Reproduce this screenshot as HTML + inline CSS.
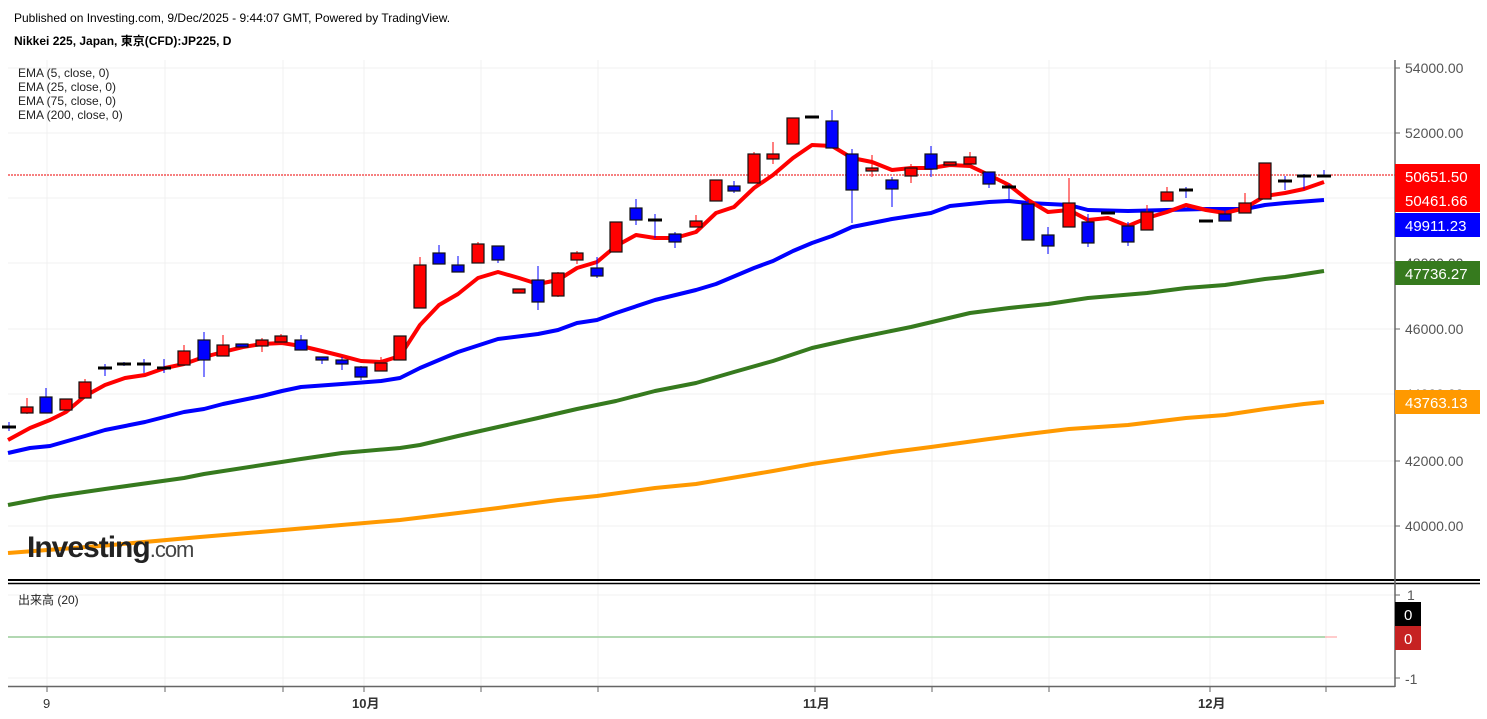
<!DOCTYPE html>
<html><head><meta charset="utf-8"><style>
html,body{margin:0;padding:0;background:#fff;width:1487px;height:719px;overflow:hidden}
svg{display:block;font-family:"Liberation Sans","Noto Sans CJK JP",sans-serif}
</style></head><body>
<svg id="s" width="1487" height="719" viewBox="0 0 1487 719" xmlns="http://www.w3.org/2000/svg">
<rect width="1487" height="719" fill="#fff"/>
<g stroke="#f0f0f0" stroke-width="1">
<line x1="8" x2="1395" y1="68" y2="68"/><line x1="8" x2="1395" y1="133" y2="133"/><line x1="8" x2="1395" y1="198" y2="198"/><line x1="8" x2="1395" y1="263" y2="263"/><line x1="8" x2="1395" y1="329" y2="329"/><line x1="8" x2="1395" y1="394" y2="394"/><line x1="8" x2="1395" y1="461" y2="461"/><line x1="8" x2="1395" y1="526" y2="526"/>
<line x1="8" x2="1395" y1="595" y2="595"/><line x1="8" x2="1395" y1="678" y2="678"/>
<line x1="47" x2="47" y1="60" y2="686"/><line x1="165" x2="165" y1="60" y2="686"/><line x1="283" x2="283" y1="60" y2="686"/><line x1="364" x2="364" y1="60" y2="686"/><line x1="481" x2="481" y1="60" y2="686"/><line x1="598" x2="598" y1="60" y2="686"/><line x1="815" x2="815" y1="60" y2="686"/><line x1="932" x2="932" y1="60" y2="686"/><line x1="1049" x2="1049" y1="60" y2="686"/><line x1="1210" x2="1210" y1="60" y2="686"/><line x1="1326" x2="1326" y1="60" y2="686"/>
</g>
<text x="14" y="22" font-size="12" fill="#000">Published on Investing.com, 9/Dec/2025 - 9:44:07 GMT, Powered by TradingView.</text>
<text x="14" y="45" font-size="12" font-weight="bold" fill="#000">Nikkei 225, Japan, 東京(CFD):JP225, D</text>
<g font-size="12" fill="#222"><text x="18" y="77">EMA (5, close, 0)</text><text x="18" y="91">EMA (25, close, 0)</text><text x="18" y="105">EMA (75, close, 0)</text><text x="18" y="119">EMA (200, close, 0)</text></g>
<line x1="8" x2="1395" y1="175" y2="175" stroke="#e00" stroke-width="1" stroke-dasharray="2,1"/>
<g id="lines" fill="none" stroke-width="4" stroke-linejoin="round"></g>
<g id="candles"></g>
<text x="27" y="557" font-size="30" font-weight="bold" fill="#222" letter-spacing="-1">Investing<tspan font-weight="normal" font-size="22" fill="#444">.com</tspan></text>
<line x1="8" x2="1480" y1="580" y2="580" stroke="#000" stroke-width="2"/>
<line x1="8" x2="1480" y1="583.5" y2="583.5" stroke="#000" stroke-width="1.5"/>
<text x="18" y="604" font-size="12" fill="#222">出来高 (20)</text>
<line x1="8" x2="1325" y1="637" y2="637" stroke="#9c9" stroke-width="1.5"/>
<line x1="1325" x2="1337" y1="637" y2="637" stroke="#f99" stroke-width="1"/>
<line x1="1395" x2="1395" y1="60" y2="687" stroke="#666" stroke-width="1.5"/>
<line x1="8" x2="1395" y1="686.5" y2="686.5" stroke="#666" stroke-width="1.5"/>
<g stroke="#666"><line x1="1395" x2="1400" y1="68" y2="68"/><line x1="1395" x2="1400" y1="133" y2="133"/><line x1="1395" x2="1400" y1="198" y2="198"/><line x1="1395" x2="1400" y1="263" y2="263"/><line x1="1395" x2="1400" y1="329" y2="329"/><line x1="1395" x2="1400" y1="394" y2="394"/><line x1="1395" x2="1400" y1="461" y2="461"/><line x1="1395" x2="1400" y1="526" y2="526"/><line x1="1395" x2="1400" y1="595" y2="595"/><line x1="1395" x2="1400" y1="678" y2="678"/>
<line x1="47" x2="47" y1="687" y2="692"/><line x1="165" x2="165" y1="687" y2="692"/><line x1="283" x2="283" y1="687" y2="692"/><line x1="364" x2="364" y1="687" y2="692"/><line x1="481" x2="481" y1="687" y2="692"/><line x1="598" x2="598" y1="687" y2="692"/><line x1="815" x2="815" y1="687" y2="692"/><line x1="932" x2="932" y1="687" y2="692"/><line x1="1049" x2="1049" y1="687" y2="692"/><line x1="1210" x2="1210" y1="687" y2="692"/><line x1="1326" x2="1326" y1="687" y2="692"/></g>
<g font-size="14" fill="#555"><text x="1405" y="73">54000.00</text><text x="1405" y="138">52000.00</text><text x="1405" y="268">48000.00</text><text x="1405" y="334">46000.00</text><text x="1405" y="399">44000.00</text><text x="1405" y="466">42000.00</text><text x="1405" y="531">40000.00</text>
<text x="1407" y="600">1</text><text x="1405" y="684">-1</text></g>
<rect x="1395" y="164" width="85" height="24" fill="#f00"/><text x="1405" y="182" font-size="15" fill="#fff">50651.50</text>
<rect x="1395" y="188" width="85" height="24" fill="#f00"/><text x="1405" y="206" font-size="15" fill="#fff">50461.66</text>
<rect x="1395" y="213" width="85" height="24" fill="#00f"/><text x="1405" y="231" font-size="15" fill="#fff">49911.23</text>
<rect x="1395" y="261" width="85" height="24" fill="#367a1e"/><text x="1405" y="279" font-size="15" fill="#fff">47736.27</text>
<rect x="1395" y="390" width="85" height="24" fill="#f90"/><text x="1405" y="408" font-size="15" fill="#fff">43763.13</text>
<rect x="1395" y="602" width="26" height="24" fill="#000"/><text x="1404" y="620" font-size="15" fill="#fff">0</text>
<rect x="1395" y="626" width="26" height="24" fill="#c62222"/><text x="1404" y="644" font-size="15" fill="#fff">0</text>
<g font-size="13" fill="#333"><text x="43" y="708">9</text><text x="352" y="708" font-weight="bold">10月</text><text x="803" y="708" font-weight="bold">11月</text><text x="1198" y="708" font-weight="bold">12月</text></g>
</svg>
<script>
var NS="http://www.w3.org/2000/svg";
function el(p,t,a){var e=document.createElementNS(NS,t);for(var k in a)e.setAttribute(k,a[k]);p.appendChild(e);return e;}
var L=document.getElementById("lines");
function line(pts,c){el(L,"polyline",{points:pts.map(function(p){return p.join(",")}).join(" "),stroke:c});}
line([[8,553],[100,546],[200,537],[260,532],[400,520],[458,513],[498,508],[558,500],[597,496],[655,488],[696,484],[773,471],[812,464],[852,458],[892,452],[931,447],[989,439],[1028,434],[1069,429],[1128,425],[1186,418],[1225,415],[1265,409],[1304,404],[1324,402]],"#f90");
line([[8,505],[50,497],[105,489],[184,478],[204,474],[301,459],[342,453],[400,448],[420,445],[458,436],[498,427],[538,418],[577,409],[616,401],[655,391],[696,383],[734,372],[773,361],[812,348],[852,339],[911,327],[970,313],[1009,308],[1048,304],[1088,298],[1147,293],[1186,288],[1225,285],[1265,279],[1285,277],[1324,271]],"#367a1e");
line([[8,453],[30,448],[50,446],[85,436],[105,430],[145,422],[184,412],[204,409],[223,404],[262,396],[282,391],[301,387],[342,384],[381,381],[400,378],[420,368],[458,352],[498,339],[538,334],[558,330],[577,323],[597,320],[616,313],[655,300],[696,290],[716,284],[754,268],[773,261],[793,251],[812,243],[832,236],[852,227],[872,223],[892,219],[931,213],[950,206],[989,202],[1009,201],[1028,203],[1069,205],[1088,210],[1128,211],[1167,210],[1206,209],[1245,209],[1265,205],[1285,203],[1324,200]],"#00f");
line([[8,440],[30,428],[50,420],[66,412],[85,396],[105,385],[125,378],[145,375],[165,368],[184,364],[204,357],[223,352],[243,347],[262,344],[282,343],[301,346],[322,351],[342,356],[361,361],[381,362],[400,356],[420,325],[439,305],[458,294],[478,278],[498,272],[519,278],[538,284],[558,280],[577,268],[597,262],[616,246],[636,235],[655,238],[675,238],[696,232],[716,213],[734,207],[754,188],[773,175],[793,158],[812,145],[832,146],[852,158],[872,162],[892,170],[911,168],[931,168],[950,165],[970,166],[989,175],[1009,185],[1028,200],[1048,212],[1069,210],[1088,220],[1108,218],[1128,226],[1147,218],[1167,212],[1186,205],[1206,210],[1225,213],[1245,208],[1265,196],[1285,193],[1304,189],[1324,182]],"#f00");
var C=[[9,'d',427,422,431],[27,'r',407,413,398,414],[46,'b',397,413,388,413],[66,'r',399,410,399,410],[85,'r',382,398,379,398],[105,'d',368,364,376],[124,'d',364,362,366],[144,'d',364,359,373],[164,'d',368,359,373],
[184,'r',351,365,345,365],[204,'b',340,360,332,377],[223,'r',345,356,335,356],[242,'b',344,347,344,347],[262,'r',340,346,338,352],[281,'r',336,342,334,342],[301,'b',340,350,335,350],[322,'b',357,360,357,364],[342,'b',360,364,357,370],[361,'b',367,377,366,380],[381,'r',363,371,357,371],[400,'r',336,360,336,360],[420,'r',265,308,257,308],[439,'b',253,264,245,264],[458,'b',265,272,256,272],[478,'r',244,263,242,263],[498,'b',246,260,246,263],[519,'r',289,293,289,293],[538,'b',280,302,266,310],[558,'r',273,296,272,297],[577,'r',253,260,251,264],[597,'b',268,276,257,278],[616,'r',222,252,222,252],[636,'b',208,220,199,225],[655,'d',220,214,238],[675,'b',234,242,232,248],
[696,'r',221,227,215,227],[716,'r',180,201,180,201],[734,'b',186,191,181,193],[754,'r',154,183,152,183],[773,'r',154,159,142,164],[793,'r',118,144,118,144],[812,'d',117,117,117],[832,'b',121,148,110,148],[852,'b',154,190,149,223],[872,'r',168,171,155,177],[892,'b',180,189,177,207],[911,'r',168,176,164,183],[931,'b',154,169,146,177],[950,'r',162,165,162,165],[970,'r',157,164,152,164],[989,'b',172,184,172,188],[1009,'d',187,184,201],[1028,'b',204,240,200,240],[1048,'b',235,246,227,254],[1069,'r',203,227,178,227],[1088,'b',222,243,214,247],[1108,'d',213,213,213],[1128,'b',226,242,222,246],[1147,'r',212,230,205,230],[1167,'r',192,201,187,201],[1186,'d',190,187,198],[1206,'d',221,221,221],[1225,'b',214,221,211,221],[1245,'r',203,213,193,213],[1265,'r',163,199,163,199],[1285,'d',181,176,190],[1304,'d',176,174,189],[1324,'d',176,170,176]];
var G=document.getElementById("candles");
C.forEach(function(c){var x=c[0];
if(c[1]=='d'){el(G,"line",{x1:x,x2:x,y1:c[3],y2:c[4],stroke:"#00f","stroke-width":1});el(G,"rect",{x:x-7,y:c[2]-1.5,width:14,height:3,fill:"#000"});return;}
var col=c[1]=='r'?"#f00":"#00f";
el(G,"line",{x1:x,x2:x,y1:c[4],y2:c[5],stroke:col,"stroke-width":1});
el(G,"rect",{x:x-6,y:c[2],width:12,height:Math.max(2,c[3]-c[2]),fill:col,stroke:"#111","stroke-width":1.2});
});
</script>
</body></html>
